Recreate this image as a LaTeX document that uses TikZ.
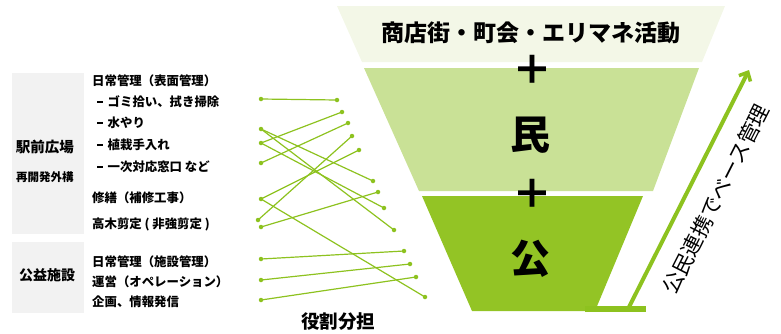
\documentclass[tikz,border=0pt]{standalone}
\usepackage{fontspec}
\setmainfont{Noto Sans CJK JP}
\usetikzlibrary{arrows.meta}
\definecolor{bandA}{HTML}{F3F7E7}
\definecolor{bandB}{HTML}{C9E196}
\definecolor{bandC}{HTML}{93C425}
\definecolor{lnk}{HTML}{8DC21F}
\definecolor{boxgray}{HTML}{F2F2F2}
\newcommand{\dashitem}{\hspace*{5pt}\rule[3.9pt]{5.5pt}{1.6pt}\hspace{5pt}}
\begin{document}
\begin{tikzpicture}[x=1pt,y=-1pt,
  item/.style={anchor=west, inner sep=0pt, font=\bfseries\fontsize{12.4}{14}\selectfont},
  dot/.style={circle, fill=lnk, inner sep=0pt, minimum size=4.5pt},
  link/.style={draw=lnk, line width=1.2pt, shorten <=-1pt, shorten >=-1pt},
  big/.style={inner sep=0pt, font=\bfseries\fontsize{40}{44}\selectfont}]
\useasboundingbox (0,0) rectangle (781,333);
% funnel
\fill[bandA] (337,6) -- (725,6) -- (702,62) -- (362,62) -- cycle;
\fill[bandB] (364,68) -- (699,68) -- (653,191) -- (419,191) -- cycle;
\fill[bandC] (422,196) -- (643,196) -- (595,311) -- (472,311) -- cycle;
\node[inner sep=0pt, font=\bfseries\fontsize{23}{26}\selectfont] (top) at (531,33) {商店街・町会・エリマネ活動};
\node[big] (p1) at (532,70) {＋};
\node[big] (min) at (530,135) {民};
\node[big] (p2) at (532,194) {＋};
\node[big] (ko) at (530,259) {公};
% arrow
\fill[lnk] (585,306) rectangle (646,312);
\coordinate (abase) at (628,309);
\coordinate (atip) at (749,70);
\draw[lnk, line width=4pt, -{Straight Barb[length=7pt,width=13pt,line width=3.5pt]}] (abase) -- (atip);
\node[rotate=63.1, inner sep=0pt, font=\fontsize{21}{24}\selectfont] (kanri) at (716,199) {公民連携でベース管理};
% left boxes
\fill[boxgray] (12,73) rectangle (84,234);
\fill[boxgray] (12,242) rectangle (84,313);
\node[inner sep=0pt, font=\bfseries\fontsize{14.5}{16}\selectfont] (eki) at (45,147) {駅前広場};
\node[inner sep=0pt, font=\bfseries\fontsize{11.5}{13}\selectfont] (sai) at (45,177) {再開発外構};
\node[inner sep=0pt, font=\bfseries\fontsize{14}{16}\selectfont] (koeki) at (47,275) {公益施設};
% items
\node[item] (t1) at (92,81) {日常管理（表面管理）};
\node[item] (t2) at (92,102) {\dashitem ゴミ拾い、拭き掃除};
\node[item] (t3) at (92,123) {\dashitem 水やり};
\node[item] (t4) at (92,145) {\dashitem 植栽手入れ};
\node[item] (t5) at (92,167) {\dashitem 一次対応窓口 など};
\node[item] (t6) at (92,198) {修繕（補修工事）};
\node[item] (t7) at (92,224) {高木剪定 ( 非強剪定 )};
\node[item] (t8) at (92,262) {日常管理（施設管理）};
\node[item] (t9) at (92,282) {運営（オペレーション）};
\node[item] (t10) at (92,302) {企画、情報発信};
\node[inner sep=0pt, font=\bfseries\fontsize{18.5}{20}\selectfont] (yaku) at (338,322) {役割分担};
% dots
\node[dot] (L1) at (261,99) {};
\node[dot] (L2) at (261,129) {};
\node[dot] (L3) at (261,143) {};
\node[dot] (L4) at (261,163) {};
\node[dot] (L5) at (261,199) {};
\node[dot] (L6) at (258,220) {};
\node[dot] (L7) at (261,227) {};
\node[dot] (L8) at (261,259) {};
\node[dot] (L9) at (261,280) {};
\node[dot] (L10) at (261,300) {};
\node[dot] (R1) at (337,100) {};
\node[dot] (R2) at (342,112) {};
\node[dot] (R3) at (348,123) {};
\node[dot] (R4) at (352,136) {};
\node[dot] (R5) at (359,150) {};
\node[dot] (R6) at (373,181) {};
\node[dot] (R7) at (378,192) {};
\node[dot] (R8) at (384,208) {};
\node[dot] (R9) at (394,230) {};
\node[dot] (R10) at (404,251) {};
\node[dot] (R11) at (410,264) {};
\node[dot] (R12) at (416,277) {};
\node[dot] (R13) at (425,297) {};
% links
\draw[link] (L1) -- (R1);
\draw[link] (L2) -- (R6);
\draw[link] (L2) -- (R9);
\draw[link] (L3) -- (R2);
\draw[link] (L3) -- (R8);
\draw[link] (L4) -- (R3);
\draw[link] (L5) -- (R5);
\draw[link] (L5) -- (R13);
\draw[link] (L6) -- (R4);
\draw[link] (L7) -- (R7);
\draw[link] (L8) -- (R10);
\draw[link] (L9) -- (R11);
\draw[link] (L10) -- (R12);
\end{tikzpicture}
\end{document}
